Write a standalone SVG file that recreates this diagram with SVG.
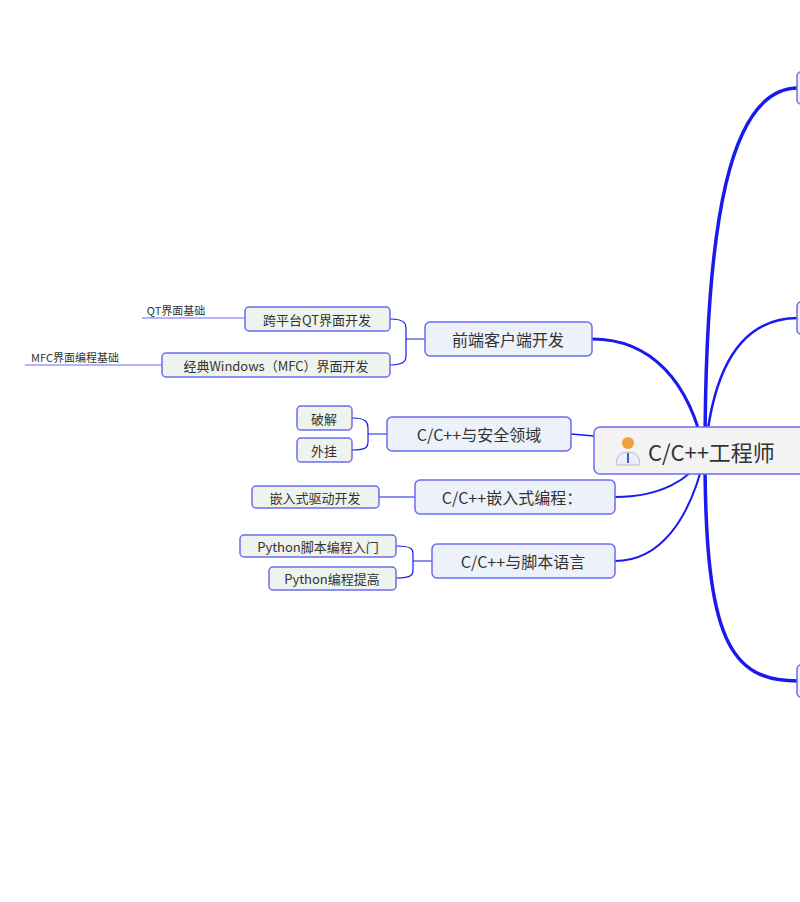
<svg xmlns="http://www.w3.org/2000/svg" width="800" height="902" viewBox="0 0 800 902">
<style>
.m{fill:#edf1fa;stroke:#6b6bf2;stroke-width:1.5}
.l{fill:#eef3ee;stroke:#6b6bf2;stroke-width:1.5}
.t{font-family:"Noto Sans CJK SC","Liberation Sans",sans-serif;fill:#333;text-anchor:middle;dominant-baseline:central}
.c{fill:none;stroke:#1a1aee}
</style>
<rect width="800" height="902" fill="#fff"/>
<g id="connectors">
<path class="c" stroke-width="3.5" d="M705,455 C705,220 730,88 798,88"/>
<path class="c" stroke-width="2.5" d="M705,455 C712,370 740,318 798,318"/>
<path class="c" stroke-width="3.5" d="M705,455 C705,640 730,681 798,681"/>
<path class="c" stroke-width="3" d="M705,455 C690,380 650,339 592,339"/>
<path class="c" stroke-width="1.5" d="M571,434 L594,436"/>
<path class="c" stroke-width="2" d="M705,455 C690,480 660,497 615,497"/>
<path class="c" stroke-width="2" d="M705,455 C690,520 660,561 615,561"/>
<path class="c" stroke-width="1.2" d="M390,319 C408,319 406,326 406,332 L406,352 C406,358 408,365 390,365 M406,339 L425,339"/>
<path class="c" stroke-width="1.2" d="M352,418 C368,418 368,424 368,428 L368,442 C368,446 368,450 352,450 M368,434 L387,434"/>
<path class="c" stroke-width="1.2" d="M379,497 L415,497"/>
<path class="c" stroke-width="1.2" d="M396,546 C413,546 413,550 413,554 L413,570 C413,574 413,578 396,578 M413,561 L432,561"/>
<path stroke="#6b6bf2" stroke-width="1.2" d="M142,318 L245,318 M25,365 L162,365"/>
</g>
<g id="center"><rect x="594" y="427" width="220" height="47" rx="6" fill="#f3f3f3" stroke="#6b6bf2" stroke-width="1.5"/>
<circle cx="628" cy="443" r="6" fill="#f0a040"/><path d="M616,465 Q616,452 628,452 Q640,452 640,465Z" fill="#eef" stroke="#bbb"/><rect x="627" y="453" width="2" height="10" fill="#36c"/>
<text class="t" x="648" y="451" font-size="22" style="text-anchor:start">C/C++工程师</text></g>
<g id="n1"><rect class="m" x="425" y="322" width="167" height="34" rx="5"/><text class="t" x="508" y="339" font-size="16">前端客户端开发</text></g>
<g id="n1a"><rect class="l" x="245" y="307" width="145" height="24" rx="4"/><text class="t" x="317" y="319" font-size="13">跨平台QT界面开发</text></g>
<g id="n1b"><rect class="l" x="162" y="353" width="228" height="24" rx="4"/><text class="t" x="276" y="365" font-size="13">经典Windows（MFC）界面开发</text></g>
<g id="n1a1"><text class="t" x="176" y="310" font-size="11">QT界面基础</text></g>
<g id="n1b1"><text class="t" x="75" y="357" font-size="11">MFC界面编程基础</text></g>
<g id="n2"><rect class="m" x="387" y="417" width="184" height="34" rx="5"/><text class="t" x="479" y="434" font-size="16">C/C++与安全领域</text></g>
<g id="n2a"><rect class="l" x="297" y="406" width="55" height="24" rx="4"/><text class="t" x="324" y="418" font-size="13">破解</text></g>
<g id="n2b"><rect class="l" x="297" y="438" width="55" height="24" rx="4"/><text class="t" x="324" y="450" font-size="13">外挂</text></g>
<g id="n3"><rect class="m" x="415" y="480" width="200" height="34" rx="5"/><text class="t" x="512" y="497" font-size="16">C/C++嵌入式编程：</text></g>
<g id="n3a"><rect class="l" x="252" y="486" width="127" height="22" rx="4"/><text class="t" x="315" y="497" font-size="13">嵌入式驱动开发</text></g>
<g id="n4"><rect class="m" x="432" y="544" width="183" height="34" rx="5"/><text class="t" x="523" y="561" font-size="16">C/C++与脚本语言</text></g>
<g id="n4a"><rect class="l" x="240" y="535" width="156" height="22" rx="4"/><text class="t" x="318" y="546" font-size="13">Python脚本编程入门</text></g>
<g id="n4b"><rect class="l" x="269" y="567" width="127" height="23" rx="4"/><text class="t" x="332" y="578" font-size="13">Python编程提高</text></g>
<g id="r1"><rect class="m" x="797" y="72" width="20" height="32" rx="4"/></g>
<g id="r2"><rect class="m" x="797" y="302" width="20" height="32" rx="4"/></g>
<g id="r3"><rect class="m" x="797" y="665" width="20" height="32" rx="4"/></g>
</svg>
